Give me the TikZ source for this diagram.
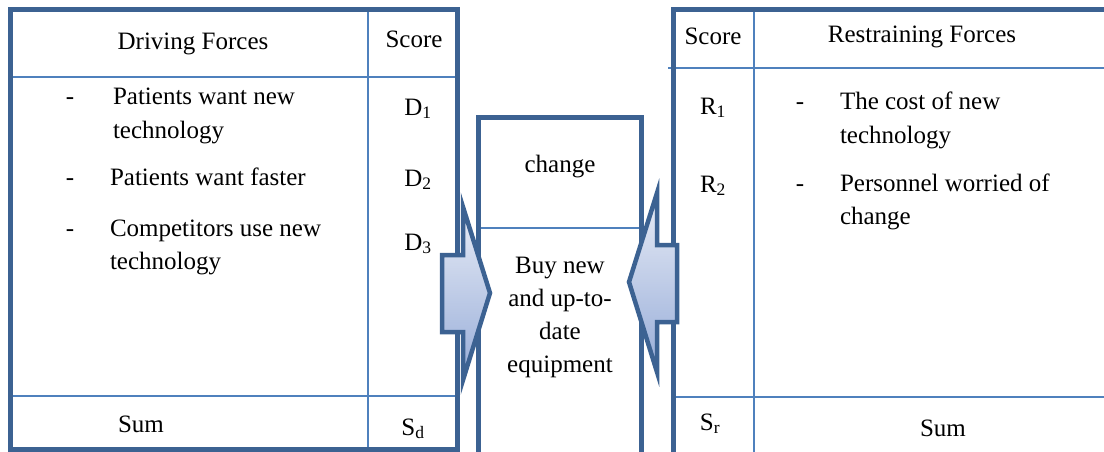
\documentclass[tikz,border=0pt]{standalone}
\usepackage{fontspec}
\setmainfont{Liberation Serif}
\definecolor{framec}{RGB}{60,98,146}
\definecolor{rulec}{RGB}{79,129,189}
\definecolor{arrtop}{RGB}{232,236,246}
\definecolor{arrbot}{RGB}{150,172,216}
\begin{document}
\begin{tikzpicture}[x=1pt,y=-1pt,
  frame/.style={draw=framec, line width=5pt},
  rulel/.style={draw=rulec, line width=1.5pt},
  txt/.style={font=\fontsize{25}{33}\selectfont, inner sep=0pt, outer sep=0pt},
  ltxt/.style={txt, anchor=base west},
  ctxt/.style={txt, anchor=base},
  force/.style={draw=framec, line width=4.5pt, top color=arrtop, bottom color=arrbot, line join=miter}
]
\useasboundingbox (0,0) rectangle (1104,452);
\clip (0,0) rectangle (1104,452);

% ---- left table (driving forces)
\draw[rulel] (10,77) -- (457,77);
\draw[rulel] (368,10) -- (368,449);
\draw[rulel] (10,396) -- (457,396);
\draw[frame] (10,10) rectangle (457,449);

% ---- right table (restraining forces)
\draw[rulel] (668,68) -- (1110,68);
\draw[rulel] (754,10) -- (754,460);
\draw[rulel] (673,397) -- (1110,397);
\draw[frame] (1110,10) -- (673,10) -- (673,460);

% ---- centre box
\draw[rulel] (478,228) -- (641,228);
\draw[frame] (478,460) -- (478,117) -- (641,117) -- (641,460);

% ---- force arrows
\draw[force] (442,255) -- (463,255) -- (463,207) -- (490,293) -- (463,380) -- (463,332) -- (442,332) -- cycle;
\draw[force] (677,245) -- (657,245) -- (657,193) -- (629,282) -- (657,372) -- (657,322) -- (677,322) -- cycle;

% ---- left texts
\node[ctxt] (dfh) at (193,50) {Driving Forces};
\node[ctxt] (dsh) at (414,48) {Score};
\node[ctxt] (dd1) at (70,105) {-};
\node[ltxt] (d1a) at (113,105) {Patients want new};
\node[ltxt] (d1b) at (113,138) {technology};
\node[ctxt] (ds1) at (418,115) {D\textsubscript{1}};
\node[ctxt] (dd2) at (70,185) {-};
\node[ltxt] (d2a) at (110,185) {Patients want faster};
\node[ctxt] (ds2) at (418,186) {D\textsubscript{2}};
\node[ctxt] (dd3) at (70,236) {-};
\node[ltxt] (d3a) at (110,236) {Competitors use new};
\node[ltxt] (d3b) at (110,269) {technology};
\node[ctxt] (ds3) at (418,250) {D\textsubscript{3}};
\node[ctxt] (dsum) at (141,432) {Sum};
\node[ctxt] (dsd) at (413,435) {S\textsubscript{d}};

% ---- centre texts
\node[ctxt] (chg) at (560,172) {change};
\node[ctxt] (buy1) at (560,273) {Buy new};
\node[ctxt] (buy2) at (560,306) {and up-to-};
\node[ctxt] (buy3) at (560,339) {date};
\node[ctxt] (buy4) at (560,372) {equipment};

% ---- right texts
\node[ctxt] (rsh) at (713,45) {Score};
\node[ctxt] (rfh) at (922,43) {Restraining Forces};
\node[ctxt] (rs1) at (713,114) {R\textsubscript{1}};
\node[ctxt] (rd1) at (800,110) {-};
\node[ltxt] (r1a) at (840,110) {The cost of new};
\node[ltxt] (r1b) at (840,143) {technology};
\node[ctxt] (rs2) at (713,192) {R\textsubscript{2}};
\node[ctxt] (rd2) at (800,191) {-};
\node[ltxt] (r2a) at (840,191) {Personnel worried of};
\node[ltxt] (r2b) at (840,224) {change};
\node[ctxt] (rsr) at (710,430) {S\textsubscript{r}};
\node[ctxt] (rsum) at (943,436) {Sum};
\end{tikzpicture}
\end{document}
